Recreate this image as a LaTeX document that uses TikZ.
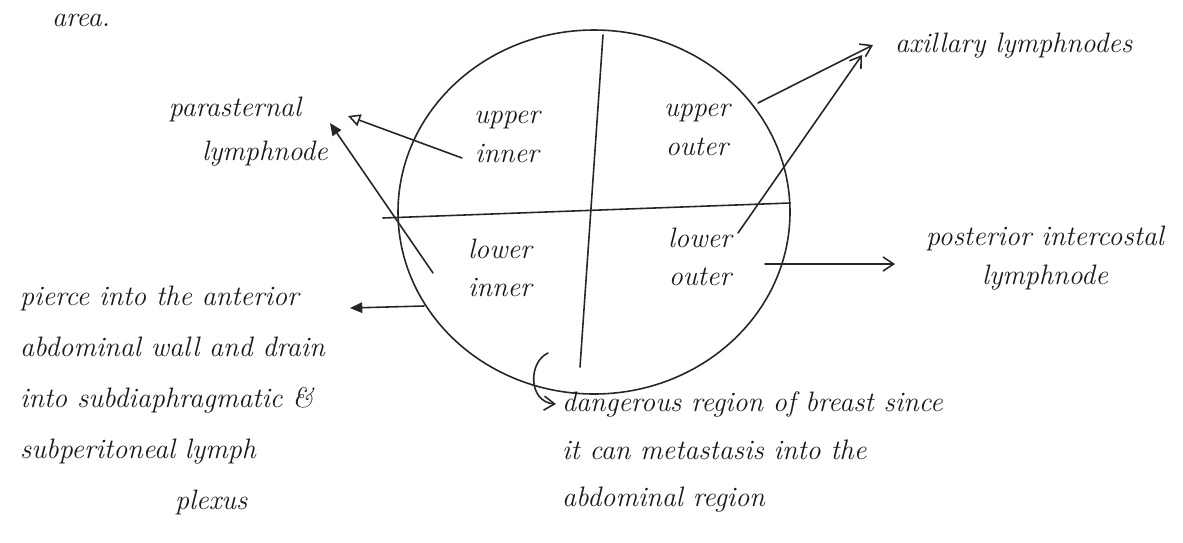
\documentclass[tikz,border=0pt]{standalone}
\usepackage{tikz}
\usetikzlibrary{arrows.meta}
\tikzset{
  note/.style={font=\fontsize{16}{22}\selectfont\itshape, inner sep=1pt, text=black!90},
  pen/.style={line width=0.9pt, line cap=round, draw=black!85},
  openhead/.style={pen, -{Triangle[open, length=7pt, width=7pt]}},
  fullhead/.style={pen, -{Triangle[length=7pt, width=6pt]}},
  barbhead/.style={pen, -{Straight Barb[length=6pt, width=8pt]}}
}

\begin{document}
\begin{tikzpicture}[x=0.02cm, y=-0.02cm]
\useasboundingbox (0,0) rectangle (1183,542);

% Breast outline and quadrants
\draw[pen] (594,212) ellipse [x radius=196, y radius=182];
\draw[pen] (603,35) -- (580,367);
\draw[pen] (383,218) -- (790,203);

% Quadrant labels
\node (uin) [note, align=center] at (507,137) {upper\\inner};
\node (uout) [note, align=center] at (697,130) {upper\\outer};
\node (lin) [note, align=center] at (500,268) {lower\\inner};
\node (lout) [note, align=center] at (700,257) {lower\\outer};

% Outer labels
\node (area) [note, anchor=base west] at (50,26) {area.};
\node (para) [note, align=center, font=\fontsize{16}{25}\selectfont\itshape] at (235,132) {parasternal\\\hspace{1.2cm}lymphnode};
\node (axil) [note, anchor=west] at (893,46) {axillary lymphnodes};
\node (post) [note, align=center] at (1045,258) {posterior intercostal\\lymphnode};
\node (pierce) [note, align=left, anchor=north west, font=\fontsize{16}{29}\selectfont\itshape] at (18,284)
  {pierce into the anterior\\abdominal wall and drain\\into subdiaphragmatic \&\\subperitoneal lymph\\\hspace{3.1cm}plexus};
\node (danger) [note, align=left, anchor=north west, font=\fontsize{16}{27}\selectfont\itshape] at (560,390)
  {dangerous region of breast since\\it can metastasis into the\\abdominal region};

% Free ends of the connectors
\coordinate (uiTail) at (462,158);
\coordinate (paraTipA) at (348,116);
\coordinate (liTail) at (433,273);
\coordinate (paraTipB) at (330,123);
\coordinate (liEdge) at (424,306);
\coordinate (pierceTip) at (350,308);
\coordinate (aoEdge) at (758,103);
\coordinate (axTipA) at (873,45);
\coordinate (loTail) at (738,233);
\coordinate (axTipB) at (862,55);
\coordinate (loEdge) at (765,264);
\coordinate (postTip) at (895,264);
\coordinate (dzStart) at (548,353);
\coordinate (dzTip) at (556,404);

% Arrows
\draw [openhead] (uiTail) -- (paraTipA);
\draw [fullhead] (liTail) -- (paraTipB);
\draw [fullhead] (liEdge) -- (pierceTip);
\draw [barbhead] (aoEdge) -- (axTipA);
\draw [barbhead] (loTail) -- (axTipB);
\draw [barbhead] (loEdge) -- (postTip);
\draw [barbhead] (dzStart) .. controls (528,362) and (528,402) .. (dzTip);

\end{tikzpicture}
\end{document}
